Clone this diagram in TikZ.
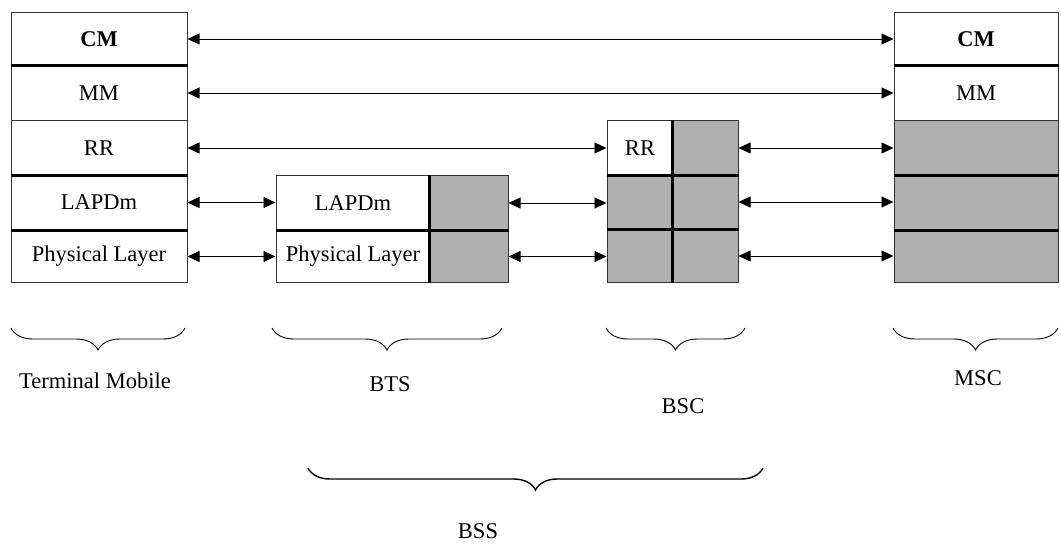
\documentclass[tikz,border=0pt]{standalone}
\usepackage{fontspec}
\setmainfont{Liberation Serif}
\usetikzlibrary{arrows.meta,decorations.pathreplacing}
\definecolor{layergray}{RGB}{176,176,176}
\begin{document}
\begin{tikzpicture}[x=1pt,y=-1pt,
  every node/.style={font=\fontsize{22.5}{26}\selectfont},
  cell/.style={draw=black!80,line width=1pt,inner sep=0pt,anchor=center},
  graycell/.style={cell,fill=layergray},
  sep/.style={line width=2.2pt,black},
  link/.style={line width=0.9pt,{Triangle[length=12pt,width=11pt]}-{Triangle[length=12pt,width=11pt]}},
  bracket/.style={decorate,decoration={brace,amplitude=22pt},line width=0.9pt},
  caption/.style={inner sep=0pt}]
\useasboundingbox (0,0) rectangle (1061,545);

% Terminal Mobile stack
\node[cell,minimum width=176pt,minimum height=52pt] (tm-cm) at (99,39) {\bfseries CM};
\node[cell,minimum width=176pt,minimum height=56pt] (tm-mm) at (99,93) {MM};
\node[cell,minimum width=176pt,minimum height=54pt] (tm-rr) at (99,148) {RR};
\node[cell,minimum width=176pt,minimum height=55pt] (tm-lapdm) at (99,202.5) {LAPDm};
\node[cell,minimum width=176pt,minimum height=53pt] (tm-pl) at (99,256.5) {Physical Layer};
\draw[sep] (tm-cm.south west) -- (tm-cm.south east);
\draw[sep] (tm-rr.south west) -- (tm-rr.south east);
\draw[sep] (tm-lapdm.south west) -- (tm-lapdm.south east);

% BTS stack
\node[cell,minimum width=154pt,minimum height=54pt] (bts-lapdm) at (353,203) {LAPDm};
\node[cell,minimum width=154pt,minimum height=53pt] (bts-pl) at (353,256.5) {Physical Layer};
\node[graycell,minimum width=78pt,minimum height=54pt] (bts-x1) at (469,203) {};
\node[graycell,minimum width=78pt,minimum height=53pt] (bts-x2) at (469,256.5) {};
\draw[sep] (bts-lapdm.south west) -- (bts-x1.south east);
\draw[sep] (bts-x1.north west) -- (bts-x2.south west);

% BSC stack
\node[cell,minimum width=66pt,minimum height=54pt] (bsc-rr) at (640,148) {RR};
\node[graycell,minimum width=65pt,minimum height=54pt] (bsc-x1) at (705.5,148) {};
\node[graycell,minimum width=66pt,minimum height=54pt] (bsc-a2) at (640,202) {};
\node[graycell,minimum width=65pt,minimum height=54pt] (bsc-x2) at (705.5,202) {};
\node[graycell,minimum width=66pt,minimum height=54pt] (bsc-a3) at (640,256) {};
\node[graycell,minimum width=65pt,minimum height=54pt] (bsc-x3) at (705.5,256) {};
\draw[sep] (bsc-rr.south west) -- (bsc-x1.south east);
\draw[sep] (bsc-a2.south west) -- (bsc-x2.south east);
\draw[sep] (bsc-x1.north west) -- (bsc-x3.south west);

% MSC stack
\node[cell,minimum width=164pt,minimum height=52pt] (msc-cm) at (976,39) {\bfseries CM};
\node[cell,minimum width=164pt,minimum height=56pt] (msc-mm) at (976,93) {MM};
\node[graycell,minimum width=164pt,minimum height=54pt] (msc-rr) at (976,148) {};
\node[graycell,minimum width=164pt,minimum height=55pt] (msc-lapdm) at (976,202.5) {};
\node[graycell,minimum width=164pt,minimum height=53pt] (msc-pl) at (976,256.5) {};
\draw[sep] (msc-cm.south west) -- (msc-cm.south east);
\draw[sep] (msc-rr.south west) -- (msc-rr.south east);
\draw[sep] (msc-lapdm.south west) -- (msc-lapdm.south east);

% Peer-to-peer links
\draw[link] (tm-cm.east) -- (msc-cm.west);
\draw[link] (tm-mm.east) -- (msc-mm.west);
\draw[link] (tm-rr.east) -- (bsc-rr.west);
\draw[link] (tm-lapdm.east) -- (tm-lapdm.east -| bts-lapdm.west);
\draw[link] (tm-pl.east) -- (tm-pl.east -| bts-pl.west);
\draw[link] (bts-x1.east) -- (bts-x1.east -| bsc-a2.west);
\draw[link] (bts-x2.east) -- (bts-x2.east -| bsc-a3.west);
\draw[link] (bsc-x1.east) -- (msc-rr.west);
\draw[link] (bsc-x2.east) -- (bsc-x2.east -| msc-lapdm.west);
\draw[link] (bsc-x3.east) -- (bsc-x3.east -| msc-pl.west);

% Grouping braces and captions
\coordinate (b-tm-r) at (185,328);  \coordinate (b-tm-l) at (11,328);
\coordinate (b-bts-r) at (502,328); \coordinate (b-bts-l) at (272,328);
\coordinate (b-bsc-r) at (745,328); \coordinate (b-bsc-l) at (606,328);
\coordinate (b-msc-r) at (1058,328);\coordinate (b-msc-l) at (893,328);
\coordinate (b-bss-r) at (763,468); \coordinate (b-bss-l) at (308,468);
\draw[bracket] (b-tm-r) -- (b-tm-l);
\draw[bracket] (b-bts-r) -- (b-bts-l);
\draw[bracket] (b-bsc-r) -- (b-bsc-l);
\draw[bracket] (b-msc-r) -- (b-msc-l);
\draw[bracket,line width=1.4pt] (b-bss-r) -- (b-bss-l);

\node[caption] (cap-tm) at (95,381) {Terminal Mobile};
\node[caption] (cap-bts) at (390,384) {BTS};
\node[caption] (cap-bsc) at (683,406) {BSC};
\node[caption] (cap-msc) at (978,378) {MSC};
\node[caption] (cap-bss) at (478,531) {BSS};
\end{tikzpicture}
\end{document}
